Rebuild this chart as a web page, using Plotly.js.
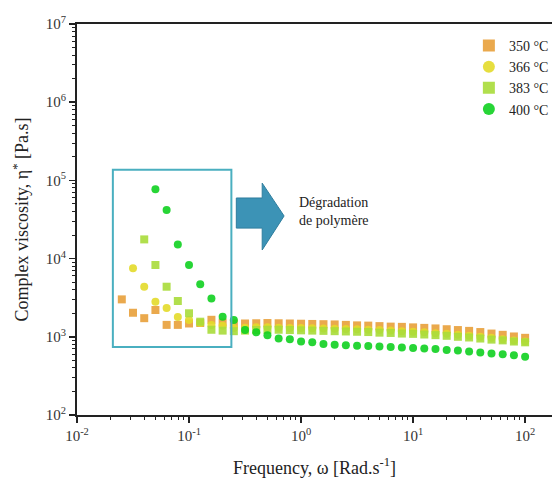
<!DOCTYPE html>
<html>
<head>
<meta charset="utf-8">
<script src="https://cdn.plot.ly/plotly-3.0.1.min.js"></script>
<style>html,body{margin:0;padding:0;background:#fff;}#chart{width:554px;height:487px;}</style>
</head>
<body>
<div id="chart"></div>
<script>
// frequency grid exponents (10 points per decade): f = 10^(k/10)
const k350 = [-16,-15,-14,-13,-12,-11,-10,-9,-8,-7,-6,-5,-4,-3,-2,-1,0,1,2,3,4,5,6,7,8,9,10,11,12,13,14,15,16,17,18,19,20];
const v350 = [3010,2030,1730,2200,1420,1420,1480,1500,1650,1520,1480,1480,1490,1500,1490,1480,1470,1460,1450,1440,1420,1400,1390,1370,1350,1340,1320,1300,1280,1250,1220,1190,1150,1100,1060,1010,970];
const k366 = [-15,-14,-13,-12,-11,-10,-9,-8,-7,-6,-5,-4,-3,-2,-1,0,1,2,3,4,5,6,7,8,9,10,11,12,13,14,15,16,17,18,19,20];
const v366 = [7520,4370,2810,2330,1790,1640,1500,1420,1380,1300,1310,1320,1320,1310,1300,1300,1290,1280,1270,1260,1250,1230,1220,1200,1180,1160,1140,1110,1090,1060,1030,1000,970,930,900,870];
const k383 = [-14,-13,-12,-11,-10,-9,-8,-7,-6,-5,-4,-3,-2,-1,0,1,2,3,4,5,6,7,8,9,10,11,12,13,14,15,16,17,18,19,20];
const v383 = [17600,8280,4370,2870,2000,1560,1230,1200,1180,1200,1220,1230,1230,1220,1210,1200,1190,1180,1170,1160,1150,1130,1120,1100,1090,1070,1050,1030,1000,980,950,920,900,870,850];
const k400 = [-13,-12,-11,-10,-9,-8,-7,-6,-5,-4,-3,-2,-1,0,1,2,3,4,5,6,7,8,9,10,11,12,13,14,15,16,17,18,19,20];
const v400 = [76900,41800,15200,8280,4690,3100,1810,1640,1220,1140,1050,950,930,870,850,810,790,780,770,760,750,740,730,720,710,700,680,670,650,630,610,600,580,557];
const seriesNames = ['350 °C','366 °C','383 °C','400 °C'];
const seriesColors = ['#E8A03A','#E3DA2A','#A8DC3A','#10D020'];
const seriesSymbols = ['square','circle','square','circle'];

const xTickVals = [0.01, 0.1, 1, 10, 100];
const xTickText = ['10<sup>-2</sup>','10<sup>-1</sup>','10<sup>0</sup>','10<sup>1</sup>','10<sup>2</sup>'];
const yTickVals = [100, 1000, 10000, 100000, 1000000, 10000000];
const yTickText = ['10<sup>2</sup>','10<sup>3</sup>','10<sup>4</sup>','10<sup>5</sup>','10<sup>6</sup>','10<sup>7</sup>'];
const minorMult = [2,3,4,5,6,7,8,9];

const freq = ks => ks.map(k => Math.pow(10, k/10));
const ks = [k350,k366,k383,k400];
const vs = [v350,v366,v383,v400];
const minorTicks = decades => decades.flatMap(d => minorMult.map(m => m*d));

const serif = 'Liberation Serif, Times New Roman, serif';
const traces = ks.map((k,i) => ({
  type:'scatter', mode:'markers', name: seriesNames[i],
  x: freq(k), y: vs[i],
  marker:{symbol: seriesSymbols[i], color: seriesColors[i], size: 8, opacity: 0.9, line:{width:0}}
}));

const layout = {
  width:554, height:487,
  margin:{l:77, r:0, t:24, b:72},
  paper_bgcolor:'#fff', plot_bgcolor:'#fff',
  font:{family: serif, color:'#222', size:13},
  showlegend:true,
  legend:{x:0.825, y:0.985, xanchor:'left', yanchor:'top', bgcolor:'rgba(0,0,0,0)',
    font:{family: serif, size:14, color:'#222'}, tracegroupgap:0, itemsizing:'constant', itemwidth:30},
  xaxis:{type:'log', range:[-2, 2.24], showgrid:false, zeroline:false,
    showline:true, linecolor:'#222', linewidth:2, mirror:true,
    ticks:'outside', ticklen:6, tickwidth:1.5, tickcolor:'#222',
    tickmode:'array', tickvals:xTickVals, ticktext:xTickText,
    tickfont:{family: serif, size:15, color:'#333'},
    minor:{ticks:'outside', ticklen:3, tickwidth:1, tickcolor:'#222', tickmode:'array',
      tickvals: minorTicks([0.01,0.1,1,10,100]), showgrid:false},
    title:{text:'Frequency, ω [Rad.s<sup>-1</sup>]', font:{family: serif, size:18, color:'#222'}, standoff:18}},
  yaxis:{type:'log', range:[2,7], showgrid:false, zeroline:false,
    showline:true, linecolor:'#222', linewidth:2,
    ticks:'outside', ticklen:6, tickwidth:1.5, tickcolor:'#222',
    tickmode:'array', tickvals:yTickVals, ticktext:yTickText,
    tickfont:{family: serif, size:15, color:'#333'},
    minor:{ticks:'outside', ticklen:3, tickwidth:1, tickcolor:'#222', tickmode:'array',
      tickvals: minorTicks([100,1000,10000,100000,1000000]), showgrid:false},
    title:{text:'Complex viscosity, η<sup>*</sup> [Pa.s]', font:{family: serif, size:18, color:'#222'}, standoff:12}},
  shapes:[
    {type:'rect', xref:'paper', yref:'paper', x0:0.0755, x1:0.325, y0:0.174, y1:0.627,
     line:{color:'#4AAFC0', width:2}, fillcolor:'rgba(0,0,0,0)'},
    {type:'path', xref:'paper', yref:'paper',
     path:'M 0.3354 0.555 L 0.3899 0.555 L 0.3899 0.593 L 0.436 0.509 L 0.3899 0.422 L 0.3899 0.478 L 0.3354 0.478 Z',
     fillcolor:'#3C93B6', line:{color:'#2F7E9E', width:1}}
  ],
  annotations:[
    {xref:'paper', yref:'paper', x:0.463, y:0.52, xanchor:'left', yanchor:'middle', align:'left',
     showarrow:false, text:'Dégradation<br>de polymère', font:{family: serif, size:14, color:'#222'}}
  ]
};
Plotly.newPlot('chart', traces, layout, {displayModeBar:false, staticPlot:true});
</script>
</body>
</html>
